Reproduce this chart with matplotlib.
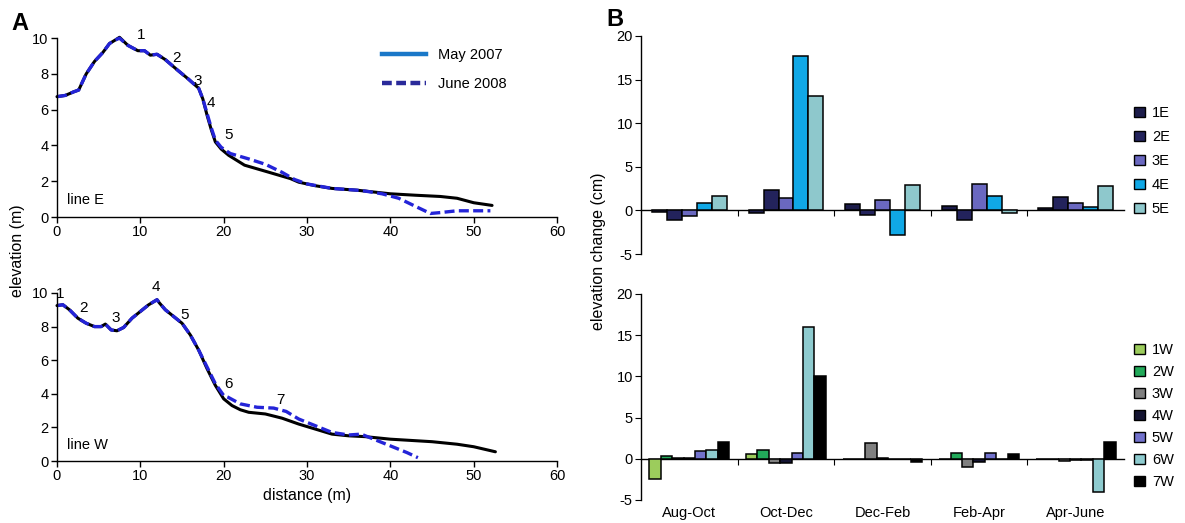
import numpy as np
import matplotlib
matplotlib.use("Agg")
import matplotlib.pyplot as plt
from matplotlib.lines import Line2D
from matplotlib.patches import Patch
import matplotlib.transforms as mtransforms

plt.rcParams["font.family"] = ["Liberation Sans", "DejaVu Sans"]
plt.rcParams["font.size"] = 10.5
plt.rcParams["axes.unicode_minus"] = False

# =====================================
# Data: beach profiles (panel A)
# =====================================
e_may_x = [0, 1, 2, 2.6, 3.5, 4.5, 5.5, 6.3, 7.0, 7.5, 8.5, 9.7, 10.5, 11.2, 12.0, 13.0,
           14.5, 15.8, 17.0, 17.5, 18.0, 18.5, 19.0, 19.7, 20.6, 22.5, 25.3, 28, 29, 31, 33,
           36, 38, 40, 43, 46, 48, 50, 52.2]
e_may_y = [6.73, 6.8, 7.0, 7.1, 8.0, 8.7, 9.2, 9.7, 9.9, 10.05, 9.6, 9.3, 9.3, 9.05, 9.1, 8.8,
           8.2, 7.7, 7.2, 6.6, 5.7, 4.9, 4.2, 3.8, 3.45, 2.9, 2.52, 2.15, 1.95, 1.75, 1.6,
           1.5, 1.4, 1.3, 1.22, 1.15, 1.05, 0.8, 0.65]

e_jun_x = [0, 1, 2, 2.6, 3.5, 4.5, 5.5, 6.3, 7.0, 7.5, 8.5, 9.7, 10.5, 11.2, 12.0, 13.0,
           14.5, 15.8, 17.0, 17.5, 18.0, 18.5, 19.0, 19.7, 20.8, 23, 25, 27, 28.5, 30, 33,
           36, 37, 39, 41, 43, 44.8, 46, 48, 52]
e_jun_y = [6.73, 6.8, 7.0, 7.1, 8.0, 8.7, 9.2, 9.7, 9.9, 10.0, 9.6, 9.3, 9.3, 9.05, 9.1, 8.8,
           8.2, 7.7, 7.2, 6.6, 5.8, 5.0, 4.3, 3.9, 3.55, 3.25, 2.95, 2.5, 2.1, 1.85, 1.6,
           1.5, 1.45, 1.3, 1.05, 0.6, 0.2, 0.25, 0.35, 0.35]

w_may_x = [0, 0.7, 1.5, 2.5, 3.5, 4.5, 5.3, 5.8, 6.5, 7.2, 8, 9, 10, 11, 12, 12.3, 13, 14,
           15, 16, 17, 18, 19, 20, 21, 22, 23, 25, 27, 29, 31, 33, 35, 37, 40, 45, 48, 50, 52.6]
w_may_y = [9.25, 9.3, 9.0, 8.5, 8.2, 8.0, 8.0, 8.15, 7.8, 7.75, 7.95, 8.5, 8.9, 9.3, 9.6, 9.4,
           9.0, 8.6, 8.2, 7.5, 6.6, 5.5, 4.5, 3.7, 3.3, 3.05, 2.9, 2.8, 2.55, 2.2, 1.9, 1.6,
           1.5, 1.45, 1.3, 1.15, 1.0, 0.85, 0.55]

w_jun_x = [0, 0.7, 1.5, 2.5, 3.5, 4.5, 5.3, 5.8, 6.5, 7.2, 8, 9, 10, 11, 12, 12.3, 13, 14,
           15, 16, 17, 18, 19, 20, 20.5, 22, 24, 26, 27.5, 29, 31, 33, 35, 36.5, 38, 40, 42, 43.3]
w_jun_y = [9.25, 9.3, 9.0, 8.5, 8.2, 8.0, 8.0, 8.15, 7.8, 7.75, 7.95, 8.5, 8.9, 9.3, 9.6, 9.4,
           9.0, 8.6, 8.2, 7.5, 6.6, 5.6, 4.6, 3.9, 3.8, 3.4, 3.2, 3.15, 2.95, 2.5, 2.1, 1.7,
           1.55, 1.6, 1.3, 0.9, 0.5, 0.2]

e_labels = ["1", "2", "3", "4", "5"]
e_label_x = [10.1, 14.3, 16.9, 18.5, 20.6]
e_label_y = [10.2, 8.9, 7.6, 6.35, 4.6]
w_labels = ["1", "2", "3", "4", "5", "6", "7"]
w_label_x = [0.4, 3.2, 7.0, 11.9, 15.3, 20.6, 26.8]
w_label_y = [9.95, 9.1, 8.5, 10.35, 8.7, 4.6, 3.65]

# =====================================
# Data: elevation change (panel B)
# =====================================
periods = ["Aug-Oct", "Oct-Dec", "Dec-Feb", "Feb-Apr", "Apr-June"]

e_names = ["1E", "2E", "3E", "4E", "5E"]
e_1 = [-0.2, -0.35, 0.75, 0.55, 0.25]
e_2 = [-1.15, 2.35, -0.5, -1.15, 1.5]
e_3 = [-0.6, 1.4, 1.2, 3.05, 0.9]
e_4 = [0.9, 17.7, -2.85, 1.7, 0.4]
e_5 = [1.7, 13.1, 2.95, -0.3, 2.75]
e_colors = ["#1c1c4a", "#23235c", "#6a68c0", "#10a8e6", "#8ec8cc"]

w_names = ["1W", "2W", "3W", "4W", "5W", "6W", "7W"]
w_1 = [-2.45, 0.55, -0.05, 0.0, 0.0]
w_2 = [0.35, 1.05, 0.0, 0.75, -0.05]
w_3 = [0.05, -0.5, 1.9, -0.95, -0.3]
w_4 = [0.05, -0.5, 0.05, -0.4, -0.1]
w_5 = [0.95, 0.7, 0.02, 0.65, -0.2]
w_6 = [1.1, 16.0, 0.0, 0.0, -4.05]
w_7 = [2.0, 10.05, -0.4, 0.55, 2.0]
w_colors = ["#9ccc5c", "#22aa5a", "#808080", "#141432", "#7272cc", "#8ecbcf", "#000000"]


# =====================================
# Helpers
# =====================================
def profile_axes(ax, name):
    ax.set_xlim(0, 60)
    ax.set_ylim(0, 10)
    ax.set_xticks(range(0, 61, 10))
    ax.set_yticks(range(0, 11, 2))
    for s in ["top", "right"]:
        ax.spines[s].set_visible(False)
    ax.tick_params(direction="out", length=4, width=1, pad=2)
    ax.spines["left"].set_linewidth(1)
    ax.spines["bottom"].set_linewidth(1)
    ax.text(1.2, 0.95, name, fontsize=10.5, va="center")


def draw_profile(ax, x1, y1, x2, y2, labels, lx, ly):
    ax.plot(x1, y1, color="black", lw=2.2, solid_capstyle="round", clip_on=False)
    ax.plot(x2, y2, color="#2424d8", lw=2.4, dashes=(3, 1.3), clip_on=False)
    for t, x, y in zip(labels, lx, ly):
        ax.text(x, y, t, fontsize=11, ha="center", va="center")


def bar_axes(ax, series, names, colors, width, show_labels):
    n = len(series)
    idx = np.arange(len(periods))
    for k, (vals, name, col) in enumerate(zip(series, names, colors)):
        offset = (k - (n - 1) / 2) * width
        ax.bar(idx + offset, vals, width, color=col, edgecolor="black",
               linewidth=1.1, label=name, zorder=3)
    ax.set_xlim(-0.5, len(periods) - 0.5)
    ax.set_ylim(-5, 20)
    ax.set_yticks(range(-5, 21, 5))
    ax.spines["top"].set_visible(False)
    ax.spines["right"].set_visible(False)
    ax.spines["bottom"].set_position(("data", 0))
    ax.spines["bottom"].set_linewidth(1)
    ax.spines["left"].set_linewidth(1)
    ax.set_xticks(np.arange(0.5, len(periods) - 0.5, 1))
    ax.tick_params(axis="x", direction="out", length=4, labelbottom=False)
    ax.tick_params(axis="y", direction="out", length=4, pad=2)
    if show_labels:
        trans = mtransforms.blended_transform_factory(ax.transData, ax.transAxes)
        for i, p in enumerate(periods):
            ax.text(i, -0.03, p, transform=trans, ha="center", va="top", fontsize=10.5)
    handles = [Patch(facecolor=c, edgecolor="black", linewidth=1) for c in colors]
    return handles


# =====================================
# Figure
# =====================================
def main():
    fig = plt.figure(figsize=(11.85, 5.23), dpi=100)

    ax_e = fig.add_axes([0.0481, 0.585, 0.422, 0.342])
    ax_w = fig.add_axes([0.0481, 0.1185, 0.422, 0.3213])
    profile_axes(ax_e, "line E")
    profile_axes(ax_w, "line W")
    draw_profile(ax_e, e_may_x, e_may_y, e_jun_x, e_jun_y, e_labels, e_label_x, e_label_y)
    draw_profile(ax_w, w_may_x, w_may_y, w_jun_x, w_jun_y, w_labels, w_label_x, w_label_y)
    ax_w.set_xlabel("distance (m)", fontsize=11.5, labelpad=3)

    leg_handles = [Line2D([], [], color="#1a78c8", lw=3.2),
                   Line2D([], [], color="#2a2a9a", lw=3.2, dashes=(2.2, 1))]
    ax_e.legend(leg_handles, ["May 2007", "June 2008"], loc="upper left",
                bbox_to_anchor=(0.63, 1.0), frameon=False, fontsize=10.5,
                handlelength=3.0, labelspacing=1.0, borderaxespad=0.3)

    fig.text(0.015, 0.52, "elevation (m)", rotation=90, ha="center", va="center", fontsize=11.5)

    ax_b1 = fig.add_axes([0.541, 0.5143, 0.4076, 0.417])
    ax_b2 = fig.add_axes([0.541, 0.044, 0.4076, 0.394])
    h1 = bar_axes(ax_b1, [e_1, e_2, e_3, e_4, e_5], e_names, e_colors, 0.155, False)
    h2 = bar_axes(ax_b2, [w_1, w_2, w_3, w_4, w_5, w_6, w_7], w_names, w_colors, 0.118, True)

    ax_b1.legend(h1, e_names, loc="upper left", bbox_to_anchor=(1.0, 0.725), frameon=False,
                 fontsize=10.5, handlelength=0.7, handleheight=0.7, handletextpad=0.5,
                 labelspacing=0.68, borderaxespad=0.3)
    ax_b2.legend(h2, w_names, loc="upper left", bbox_to_anchor=(1.0, 0.81), frameon=False,
                 fontsize=10.5, handlelength=0.7, handleheight=0.7, handletextpad=0.5,
                 labelspacing=0.55, borderaxespad=0.3)

    fig.text(0.505, 0.52, "elevation change (cm)", rotation=90, ha="center", va="center",
             fontsize=11.5)

    fig.text(0.01, 0.955, "A", fontsize=17, fontweight="bold", va="center")
    fig.text(0.512, 0.962, "B", fontsize=17, fontweight="bold", va="center")

    fig.savefig("out.png", dpi=100)
    plt.close(fig)


if __name__ == "__main__":
    main()
